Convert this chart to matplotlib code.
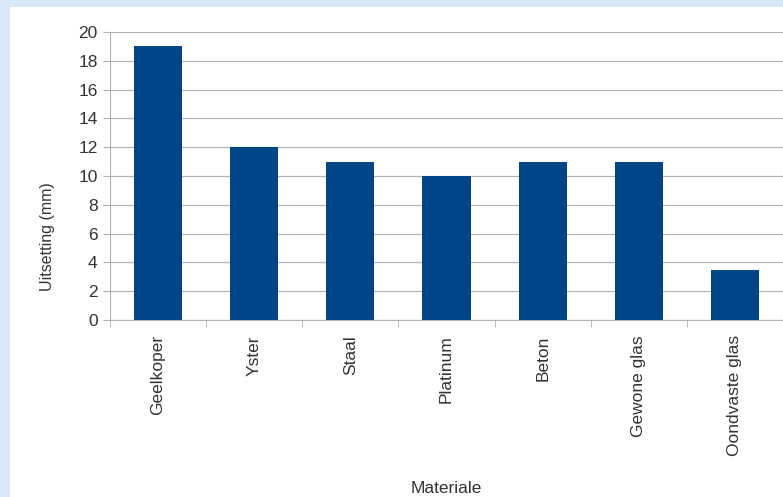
import matplotlib.pyplot as plt
import matplotlib.patches as mpatches

plt.rcParams['font.family'] = ['Liberation Sans', 'DejaVu Sans']

# data
materiale = ['Geelkoper', 'Yster', 'Staal', 'Platinum', 'Beton', 'Gewone glas', 'Oondvaste glas']
uitsetting = [19, 12, 11, 10, 11, 11, 3.5]
y_ticks = list(range(0, 21, 2))

fig = plt.figure(figsize=(7.83, 4.97), dpi=100)
fig.patch.set_facecolor('#d9e8f7')
# white panel
fig.patches.append(mpatches.Rectangle((10 / 783, 0), 1, 1 - 7 / 497, transform=fig.transFigure,
                                      facecolor='white', edgecolor='none', zorder=-10))

ax = fig.add_axes([110 / 783, 1 - 320 / 497, 1 - 110 / 783, (320 - 32) / 497])
ax.set_facecolor('white')

x = range(len(materiale))
ax.bar(x, uitsetting, width=0.5, color='#004586', zorder=3)

ax.set_xlim(-0.5, 6.5)
ax.set_ylim(0, 20)
ax.set_yticks(y_ticks)
ax.yaxis.grid(True, color='#b3b3b3', linewidth=0.9, zorder=0)

fs = 12.5
ax.set_xticks(list(x))
ax.set_xticklabels(materiale, rotation=90, fontsize=fs, color='#333333')
ax.tick_params(axis='x', length=0, pad=11)
ax.set_xticks([i - 0.5 for i in range(len(materiale) + 1)], minor=True)
ax.tick_params(axis='x', which='minor', length=5, color='#b3b3b3', direction='out')
ax.tick_params(axis='y', length=5, color='#b3b3b3', labelsize=fs, labelcolor='#333333', pad=4)

for s in ['top', 'right']:
    ax.spines[s].set_visible(False)
ax.spines['left'].set_color('#b3b3b3')
ax.spines['bottom'].set_color('#b3b3b3')

ax.set_ylabel('Uitsetting (mm)', fontsize=11.5, color='#333333')
ax.yaxis.set_label_coords(-0.081, 0.29)
ax.set_xlabel('Materiale', fontsize=fs, color='#333333', labelpad=18)

fig.savefig('out.png', dpi=100, facecolor=fig.get_facecolor())
